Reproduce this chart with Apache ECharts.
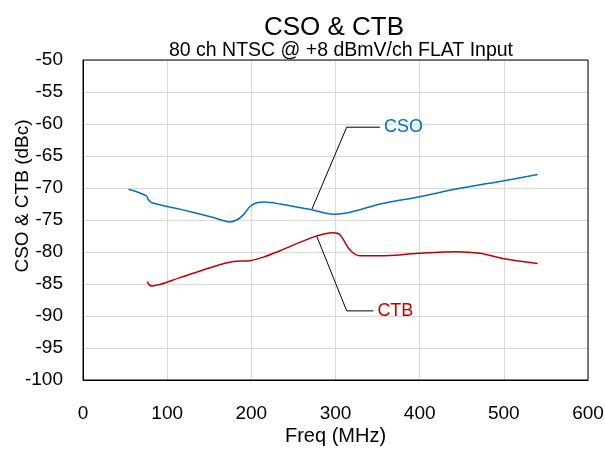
<!DOCTYPE html>
<html>
<head>
<meta charset="utf-8">
<script src="https://cdn.jsdelivr.net/npm/echarts@6/dist/echarts.min.js"></script>
<style>
  html, body { margin: 0; padding: 0; background: #fff; }
  #chart { width: 605px; height: 449px; }
</style>
</head>
<body>
<div id="chart"></div>
<script>
// CSO 曲线 (MHz, dBc)
const csoData = [
  [54, -70.2], [66, -70.7], [75.6, -71.25], [77.5, -71.8], [81.6, -72.3],
  [115, -73.3], [155, -74.6], [174.6, -75.3], [182.6, -75.0], [190.5, -74.2],
  [198.4, -72.9], [206.3, -72.3], [216, -72.2], [234, -72.5], [271.7, -73.4],
  [297.4, -74.1], [309, -74.0], [329, -73.4], [352.9, -72.5], [398.4, -71.4],
  [447.9, -70.05], [498.6, -68.9], [540.2, -67.9]
];
// CTB 曲线
const ctbData = [
  [76.4, -84.6], [78.5, -85.1], [81.6, -85.3], [115.2, -84.0], [154.8, -82.3],
  [178.6, -81.5], [198.4, -81.35], [214.2, -80.8], [234, -79.8], [275, -77.6],
  [297.4, -77.0], [305.3, -77.3], [317.2, -79.7], [329, -80.6], [352.9, -80.6],
  [398.4, -80.2], [443.9, -79.95], [471.6, -80.2], [498.6, -81.0], [540.2, -81.8]
];
// 标注引线
const csoLeader = [[271.7, -73.4], [313.3, -60.5], [352.9, -60.5]];
const ctbLeader = [[277.6, -77.5], [313.3, -89.2], [345, -89.2]];
const xTicks = [0, 100, 200, 300, 400, 500, 600];
const yTicks = [-100, -95, -90, -85, -80, -75, -70, -65, -60, -55, -50];

const FONT = "Liberation Sans";
const chart = echarts.init(document.getElementById("chart"));

const leader = (data, name, color) => ({
  type: "line",
  data: data,
  symbol: "none",
  silent: true,
  lineStyle: { color: "#000", width: 1 },
  endLabel: {
    show: true,
    formatter: name,
    color: color,
    fontSize: 18,
    fontFamily: FONT,
    distance: 4,
  },
  z: 1,
});

const option = {
  animation: false,
  title: [
    {
      text: "CSO & CTB",
      left: 329,
      textAlign: "center",
      top: 10,
      textStyle: { fontFamily: FONT, fontSize: 26, fontWeight: "normal", color: "#000" },
    },
    {
      text: "80 ch NTSC @ +8 dBmV/ch FLAT Input",
      left: 336,
      textAlign: "center",
      top: 36,
      textStyle: { fontFamily: FONT, fontSize: 19.5, fontWeight: "normal", color: "#000" },
    },
  ],
  grid: {
    left: 83, right: 17, top: 60, bottom: 69,
    containLabel: false,
    outerBoundsMode: "none",
  },
  xAxis: {
    type: "value",
    min: xTicks[0],
    max: xTicks[xTicks.length - 1],
    interval: 100,
    name: "Freq (MHz)",
    nameLocation: "middle",
    nameGap: 46,
    nameMoveOverlap: false,
    nameTextStyle: { fontFamily: FONT, fontSize: 20, color: "#000" },
    axisLine: { show: true, lineStyle: { color: "#000", width: 1 } },
    axisTick: { show: false },
    axisLabel: { fontFamily: FONT, fontSize: 19, color: "#000", margin: 24 },
    splitLine: { show: true, lineStyle: { color: "#d9d9d9", width: 1 } },
  },
  yAxis: {
    type: "value",
    min: yTicks[0],
    max: yTicks[yTicks.length - 1],
    interval: 5,
    name: "CSO & CTB (dBc)",
    nameLocation: "middle",
    nameGap: 51,
    nameMoveOverlap: false,
    nameTextStyle: { fontFamily: FONT, fontSize: 19, color: "#000", padding: [0, 0, 0, 48] },
    axisLine: { show: true, lineStyle: { color: "#000", width: 1 } },
    axisTick: { show: false },
    axisLabel: { fontFamily: FONT, fontSize: 19, color: "#000", margin: 20 },
    splitLine: { show: true, lineStyle: { color: "#d9d9d9", width: 1 } },
  },
  series: [
    {
      name: "CSO",
      type: "line",
      data: csoData,
      smooth: 0.3,
      symbol: "none",
      lineStyle: { color: "#0070C0", width: 1.5 },
      z: 3,
    },
    {
      name: "CTB",
      type: "line",
      data: ctbData,
      smooth: 0.3,
      symbol: "none",
      lineStyle: { color: "#C00000", width: 1.5 },
      z: 3,
    },
    leader(csoLeader, "CSO", "#0070C0"),
    leader(ctbLeader, "CTB", "#C00000"),
    {
      // 绘图区边框
      type: "line",
      data: [],
      markArea: {
        silent: true,
        itemStyle: { color: "transparent", borderColor: "#000", borderWidth: 1 },
        data: [[{ xAxis: "min", yAxis: "min" }, { xAxis: "max", yAxis: "max" }]],
      },
    },
  ],
};
chart.setOption(option);
</script>
</body>
</html>
